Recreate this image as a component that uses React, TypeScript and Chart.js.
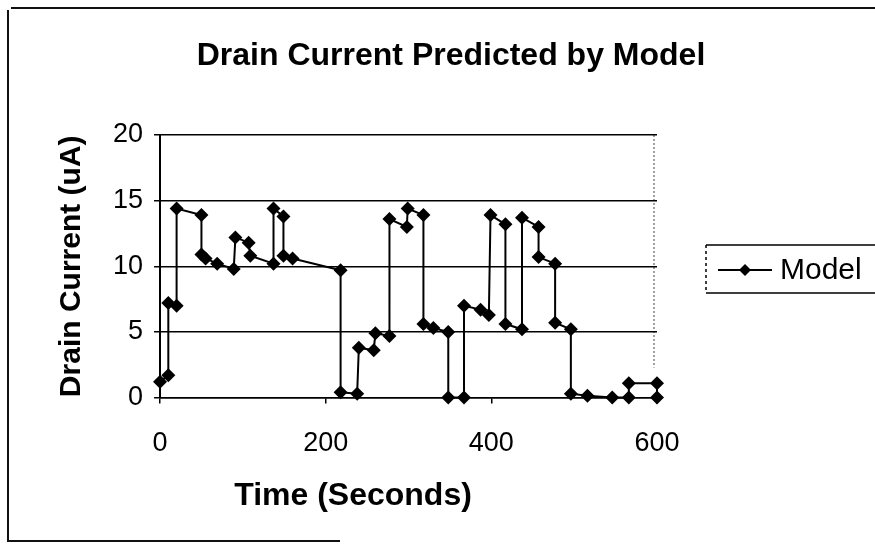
import React, { useEffect, useRef } from "react";
import { Chart, registerables } from "chart.js";

Chart.register(...registerables);

// ---- data ----
const timeSeconds = [
  0, 10, 10, 20, 20, 50, 50, 55, 69, 89,
  91, 107, 109, 137, 137, 149, 149, 160, 218, 218,
  238, 240, 258, 260, 277, 277, 298, 299, 318, 318,
  330, 348, 348, 367, 367, 387, 397, 399, 417, 417,
  437, 437, 457, 457, 477, 477, 496, 496, 516, 546,
  566, 566, 600, 600,
];
const drainCurrentUA = [
  1.2, 1.7, 7.2, 7.0, 14.4, 13.9, 10.9, 10.6, 10.2, 9.8,
  12.2, 11.8, 10.8, 10.2, 14.4, 13.8, 10.8, 10.6, 9.7, 0.4,
  0.3, 3.8, 3.6, 4.9, 4.7, 13.6, 13.0, 14.4, 13.9, 5.6,
  5.3, 5.0, 0, 0, 7.0, 6.7, 6.3, 13.9, 13.2, 5.6,
  5.2, 13.7, 13.0, 10.7, 10.2, 5.7, 5.2, 0.3, 0.15, 0,
  0, 1.1, 1.1, 0,
];
const xTickValues = [0, 200, 400, 600];
const yTickValues = [0, 5, 10, 15, 20];
const seriesName = "Model";
const chartTitle = "Drain Current Predicted by Model";
const xAxisTitle = "Time (Seconds)";
const yAxisTitle = "Drain Current (uA)";

const FONT = "'Liberation Sans', Arial, Helvetica, sans-serif";

export default function App() {
  const canvasRef = useRef<HTMLCanvasElement | null>(null);

  useEffect(() => {
    document.body.style.margin = "0";
    const canvas = canvasRef.current;
    if (!canvas) return;

    const points = timeSeconds.map((t, i) => ({ x: t, y: drainCurrentUA[i] }));

    const diamond = (ctx: CanvasRenderingContext2D, x: number, y: number, r: number) => {
      ctx.beginPath();
      ctx.moveTo(x, y - r);
      ctx.lineTo(x + r, y);
      ctx.lineTo(x, y + r);
      ctx.lineTo(x - r, y);
      ctx.closePath();
      ctx.fill();
    };

    const decor = {
      id: "decor",
      beforeDraw(chart: any) {
        const ctx = chart.ctx as CanvasRenderingContext2D;
        const a = chart.chartArea;
        ctx.save();
        // outer chart frame (as scanned: top, left, part of bottom)
        ctx.strokeStyle = "#111";
        ctx.lineWidth = 2;
        ctx.beginPath();
        ctx.moveTo(11, 8);
        ctx.lineTo(875, 8);
        ctx.moveTo(8, 10);
        ctx.lineTo(8, 541);
        ctx.lineTo(340, 541);
        ctx.stroke();
        // right edge of plot area (faint dotted)
        ctx.strokeStyle = "#444";
        ctx.lineWidth = 1;
        ctx.setLineDash([2, 2]);
        ctx.beginPath();
        ctx.moveTo(a.right - 3, a.top);
        ctx.lineTo(a.right - 3, a.bottom - 30);
        ctx.stroke();
        ctx.restore();
      },
      afterDraw(chart: any) {
        const ctx = chart.ctx as CanvasRenderingContext2D;
        const a = chart.chartArea;
        ctx.save();
        ctx.fillStyle = "#000";
        // chart title
        ctx.font = `bold 32px ${FONT}`;
        ctx.textAlign = "center";
        ctx.textBaseline = "middle";
        ctx.fillText(chartTitle, 451, 56);
        // x axis title
        ctx.font = `bold 32px ${FONT}`;
        ctx.fillText(xAxisTitle, 353, a.bottom + 99);
        // legend
        ctx.strokeStyle = "#000";
        ctx.lineWidth = 1.5;
        ctx.beginPath();
        ctx.moveTo(706, 245);
        ctx.lineTo(880, 245);
        ctx.moveTo(706, 293);
        ctx.lineTo(880, 293);
        ctx.stroke();
        ctx.setLineDash([3, 3]);
        ctx.beginPath();
        ctx.moveTo(706, 245);
        ctx.lineTo(706, 293);
        ctx.stroke();
        ctx.setLineDash([]);
        ctx.lineWidth = 2;
        ctx.beginPath();
        ctx.moveTo(718, 270);
        ctx.lineTo(772, 270);
        ctx.stroke();
        diamond(ctx, 745, 270, 6);
        ctx.font = `30px ${FONT}`;
        ctx.textAlign = "left";
        ctx.textBaseline = "middle";
        ctx.fillText(seriesName, 780, 271);
        ctx.restore();
      },
    };

    const chart = new Chart(canvas, {
      type: "line",
      data: {
        datasets: [
          {
            label: seriesName,
            data: points,
            borderColor: "#000",
            backgroundColor: "#000",
            borderWidth: 2,
            pointStyle: "rectRot",
            pointRadius: 7,
            pointBackgroundColor: "#000",
            pointBorderColor: "#000",
            pointBorderWidth: 0,
            tension: 0,
            fill: false,
            clip: false,
          } as any,
        ],
      },
      options: {
        responsive: false,
        animation: false,
        parsing: false as any,
        layout: { padding: { left: 41, right: 218, top: 135, bottom: 63 } },
        plugins: {
          legend: { display: false },
          tooltip: { enabled: false },
          title: { display: false },
        },
        scales: {
          x: {
            type: "linear",
            min: 0,
            max: 600,
            afterBuildTicks: (axis: any) => {
              axis.ticks = xTickValues.map((v) => ({ value: v }));
            },
            ticks: {
              color: "#000",
              font: { family: FONT, size: 27 },
              padding: 24,
              maxRotation: 0,
            },
            grid: {
              drawOnChartArea: false,
              drawTicks: true,
              tickLength: 6,
              color: "#000",
              lineWidth: 1.5,
            },
            border: { color: "#000", width: 1.5 },
            title: { display: false },
          },
          y: {
            type: "linear",
            min: 0,
            max: 20,
            afterBuildTicks: (axis: any) => {
              axis.ticks = yTickValues.map((v) => ({ value: v }));
            },
            ticks: {
              color: "#000",
              font: { family: FONT, size: 27 },
              padding: 11,
            },
            grid: {
              color: "#000",
              lineWidth: 1.5,
              tickLength: 6,
            },
            border: { color: "#000", width: 2 },
            title: {
              display: true,
              text: yAxisTitle,
              color: "#000",
              font: { family: FONT, size: 30, weight: "bold" },
              padding: { top: 13, bottom: 12 },
            },
          },
        },
      },
      plugins: [decor],
    });

    return () => chart.destroy();
  }, []);

  return (
    <div style={{ width: 875, height: 547, background: "#fff" }}>
      <canvas ref={canvasRef} width={875} height={547} style={{ display: "block" }} />
    </div>
  );
}
